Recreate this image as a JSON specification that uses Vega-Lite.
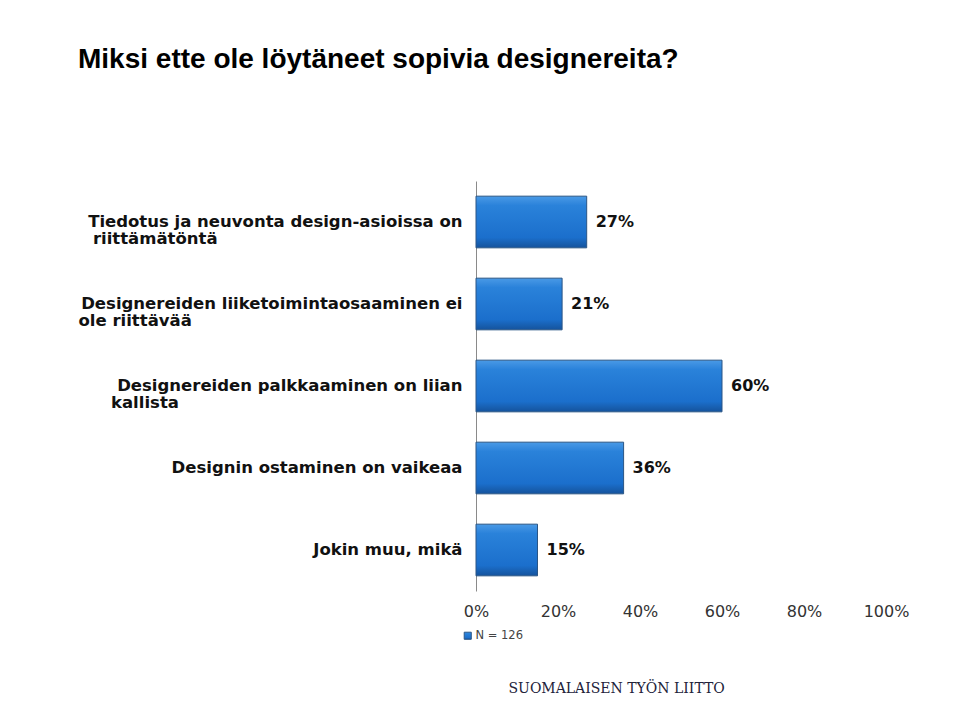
{
  "$schema": "https://vega.github.io/schema/vega-lite/v6.json",
  "autosize": "none",
  "width": 410,
  "height": 410,
  "padding": {"left": 476, "top": 181, "right": 74, "bottom": 129},
  "background": "white",
  "title": {
    "text": "Miksi ette ole löytäneet sopivia designereita?",
    "anchor": "start",
    "frame": "group",
    "dx": -398,
    "offset": 107,
    "font": "Liberation Sans",
    "fontSize": 28,
    "fontWeight": "bold",
    "color": "#000000"
  },
  "config": {
    "view": {"stroke": null},
    "axis": {"grid": false, "ticks": false}
  },
  "data": {
    "values": [
      {"syy": "Tiedotus ja neuvonta design-asioissa on riittämätöntä", "osuus": 0.27, "sarja": "N = 126"},
      {"syy": "Designereiden liiketoimintaosaaminen ei ole riittävää", "osuus": 0.21, "sarja": "N = 126"},
      {"syy": "Designereiden palkkaaminen on liian kallista", "osuus": 0.60, "sarja": "N = 126"},
      {"syy": "Designin ostaminen on vaikeaa", "osuus": 0.36, "sarja": "N = 126"},
      {"syy": "Jokin muu, mikä", "osuus": 0.15, "sarja": "N = 126"}
    ]
  },
  "encoding": {
    "y": {
      "field": "syy",
      "type": "nominal",
      "sort": null,
      "scale": {"paddingInner": 0.37, "paddingOuter": 0.185},
      "axis": {
        "title": null,
        "domain": true,
        "domainColor": "#8a8a8a",
        "domainWidth": 1,
        "labelPadding": 14,
        "labelFont": "DejaVu Sans",
        "labelFontSize": 16.5,
        "labelFontWeight": "bold",
        "labelColor": "#111111",
        "labelLineHeight": 17,
        "labelLimit": 470,
        "labelExpr": "datum.value == 'Tiedotus ja neuvonta design-asioissa on riittämätöntä' ? ['Tiedotus ja neuvonta design-asioissa on', pad('riittämätöntä', 32, '\u2800')] : datum.value == 'Designereiden liiketoimintaosaaminen ei ole riittävää' ? ['Designereiden liiketoimintaosaaminen ei', pad('ole riittävää', 34, '\u2800')] : datum.value == 'Designereiden palkkaaminen on liian kallista' ? ['Designereiden palkkaaminen on liian', pad('kallista', 30, '\u2800')] : datum.value"
      }
    },
    "x": {
      "field": "osuus",
      "type": "quantitative",
      "scale": {"domain": [0, 1], "nice": false},
      "axis": {
        "values": [0, 0.2, 0.4, 0.6, 0.8, 1],
        "format": ".0%",
        "domain": false,
        "labelPadding": 12,
        "labelFont": "DejaVu Sans",
        "labelFontSize": 16,
        "labelColor": "#333333",
        "labelFlush": false,
        "title": "SUOMALAISEN TYÖN LIITTO",
        "titleFont": "DejaVu Serif",
        "titleFontSize": 14,
        "titleFontWeight": "normal",
        "titleColor": "#22223a",
        "titleAlign": "left",
        "titleAnchor": "start",
        "titleBaseline": "middle",
        "titleX": 32,
        "titleY": 97
      }
    }
  },
  "layer": [
    {
      "mark": {
        "type": "bar",
        "strokeWidth": 1,
        "fill": {"gradient": "linear", "x1": 0, "y1": 0, "x2": 0, "y2": 1,
          "stops": [
            {"offset": 0, "color": "#4a9ae6"},
            {"offset": 0.18, "color": "#2a82da"},
            {"offset": 0.8, "color": "#1b6fcc"},
            {"offset": 1, "color": "#15539c"}
          ]}
      },
      "encoding": {
        "stroke": {
          "field": "sarja",
          "type": "nominal",
          "scale": {"range": ["#2a5585"]},
          "legend": {
            "title": null,
            "orient": "none",
            "legendX": -14,
            "legendY": 449,
            "symbolType": "square",
            "symbolSize": 50,
            "symbolStrokeWidth": 1,
            "labelFont": "DejaVu Sans",
            "labelFontSize": 11.5,
            "labelColor": "#444444",
            "labelOffset": 2,
            "encode": {"symbols": {"update": {"fill": {"value": "#1f72cf"}, "fillOpacity": {"value": 1}}}}
          }
        }
      }
    },
    {
      "mark": {
        "type": "text",
        "align": "left",
        "baseline": "middle",
        "dx": 9,
        "font": "DejaVu Sans",
        "fontSize": 16,
        "fontWeight": "bold",
        "color": "#111111"
      },
      "encoding": {
        "text": {"field": "osuus", "type": "quantitative", "format": ".0%"}
      }
    }
  ]
}
